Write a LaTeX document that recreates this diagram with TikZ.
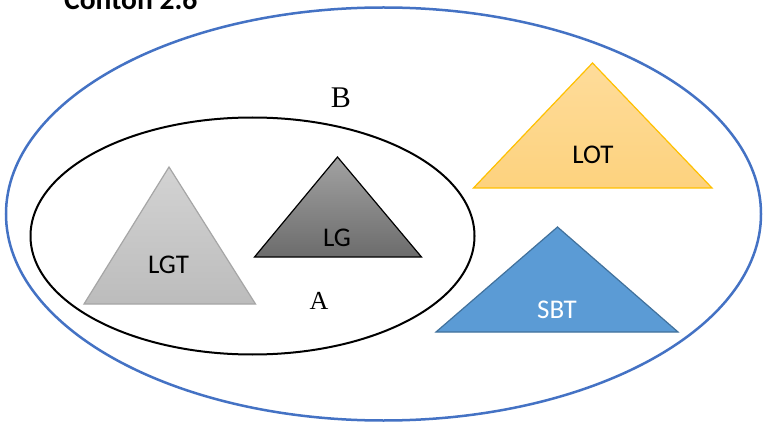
\documentclass[tikz,border=0pt]{standalone}
\usepackage{fontspec}
\setmainfont{Liberation Serif}
\newfontfamily\calibri{Carlito}
\definecolor{ringblue}{HTML}{4472C4}
\definecolor{lgtTop}{HTML}{D3D3D3}
\definecolor{lgtBot}{HTML}{BCBCBC}
\definecolor{lgtEdge}{HTML}{A6A6A6}
\definecolor{lgTop}{HTML}{A2A2A2}
\definecolor{lgBot}{HTML}{6C6C6C}
\definecolor{lotTop}{HTML}{FEDC9A}
\definecolor{lotBot}{HTML}{FDD27E}
\definecolor{lotEdge}{HTML}{FFC000}
\definecolor{sbtFill}{HTML}{5B9BD5}
\definecolor{sbtEdge}{HTML}{41719C}
\begin{document}
\begin{tikzpicture}[x=1pt,y=-1pt,
  outerset/.style={draw=ringblue, line width=2.5pt},
  innerset/.style={draw=black, line width=2pt},
  tri/.style={line width=1.2pt, line join=miter},
  trilabel/.style={font=\calibri\fontsize{27}{29}\selectfont, inner sep=0pt},
  setlabel/.style={inner sep=0pt}]
\useasboundingbox (0,0) rectangle (763,422);
\clip (0,0) rectangle (763,422);
\fill[white] (0,0) rectangle (763,422);

% heading
\node[anchor=base west, inner sep=0pt,
      font=\calibri\bfseries\fontsize{29.5}{30}\selectfont] (title) at (64,10) {Contoh 2.6};

% universal set B and subset A
\draw[outerset] (383.5,214) ellipse [x radius=377.5, y radius=206.5];
\draw[innerset] (252.5,236) ellipse [x radius=222, y radius=118.5];

% triangles
\path[tri, draw=lgtEdge, top color=lgtTop, bottom color=lgtBot]
  (169,167) -- (255.5,304) -- (84,304) -- cycle;
\path[tri, draw=black, top color=lgTop, bottom color=lgBot]
  (337.5,157) -- (421.5,257) -- (254.5,257) -- cycle;
\path[tri, draw=lotEdge, top color=lotTop, bottom color=lotBot]
  (592.5,63) -- (712,188) -- (473.5,188) -- cycle;
\path[tri, draw=sbtEdge, fill=sbtFill]
  (557.5,227) -- (678,332) -- (436,332) -- cycle;

% labels
\node[trilabel] (lgt) at (168.5,265) {LGT};
\node[trilabel] (lg) at (337,237.5) {LG};
\node[trilabel] (lot) at (593,155) {LOT};
\node[trilabel, text=white] (sbt) at (557,310) {SBT};
\node[setlabel, font=\fontsize{30}{32}\selectfont, anchor=base] (b) at (341,107.3) {B};
\node[setlabel, font=\fontsize{26}{28}\selectfont, anchor=base] (a) at (319,309.3) {A};
\end{tikzpicture}
\end{document}
